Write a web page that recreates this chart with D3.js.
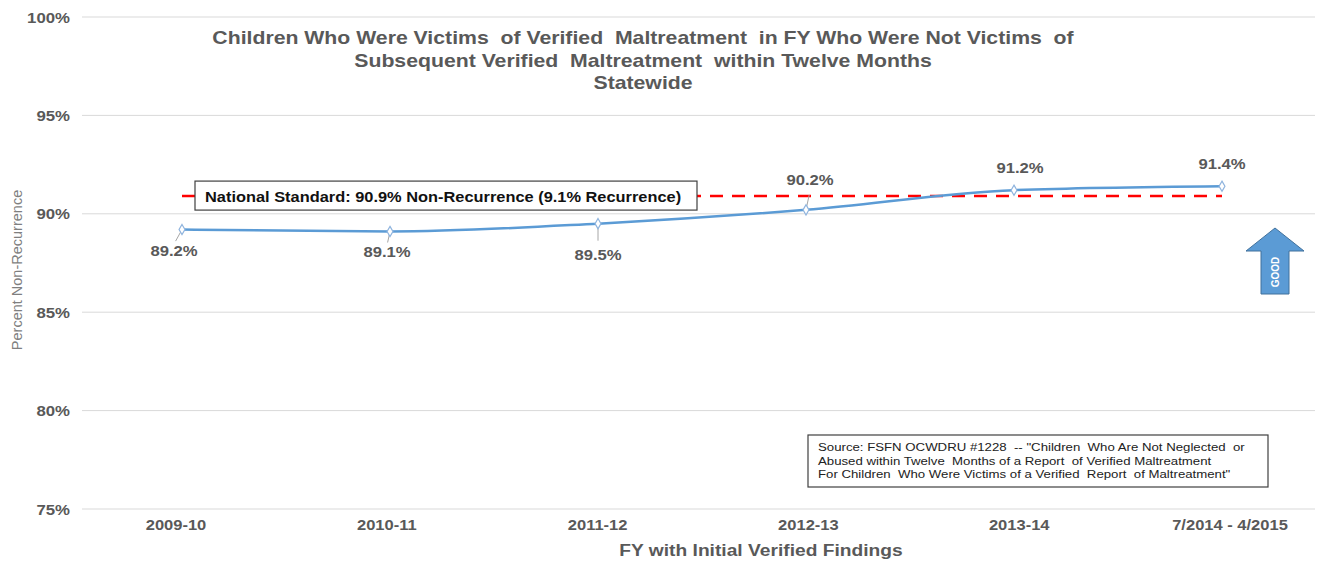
<!DOCTYPE html>
<html>
<head>
<meta charset="utf-8">
<script src="https://cdn.jsdelivr.net/npm/d3@7"></script>
<style>
  body { margin: 0; background: #fff; }
  svg { font-family: Arial, "Liberation Sans", sans-serif; }
</style>
</head>
<body>
<svg id="chart" width="1322" height="561"></svg>
<script>
// Chart data
const categories = ['2009-10', '2010-11', '2011-12', '2012-13', '2013-14', '7/2014 - 4/2015'];
const values = [89.2, 89.1, 89.5, 90.2, 91.2, 91.4];
const yTicks = [75, 80, 85, 90, 95, 100];
const nationalStandard = 90.9;
const titleLines = [
    'Children Who Were Victims  of Verified  Maltreatment  in FY Who Were Not Victims  of',
    'Subsequent Verified  Maltreatment  within Twelve Months',
    'Statewide'
];
const sourceLines = [
    'Source: FSFN OCWDRU #1228  -- "Children  Who Are Not Neglected  or',
    'Abused within Twelve  Months of a Report  of Verified Maltreatment',
    'For Children  Who Were Victims of a Verified  Report  of Maltreatment"'
];
// label offsets from each point
const labelPos = [
    { dx: -8, dy: 21 }, { dx: -3, dy: 20 }, { dx: 0, dy: 31 },
    { dx: 4, dy: -30 }, { dx: 6, dy: -22 }, { dx: 0, dy: -22 }
];

const svg = d3.select('#chart');
const textGray = '#595959';

// The reference text is drawn a little wider than the font, so stretch it
function addText(parent, x, y, sx, str) {
    return parent.append('g')
        .attr('transform', `translate(${x},${y}) scale(${sx},1)`)
        .append('text')
        .attr('xml:space', 'preserve')
        .text(str);
}

const x = d3.scalePoint().domain(categories).range([182, 1222]);
const xTick = d3.scalePoint().domain(categories).range([176, 1230]);
const y = d3.scaleLinear().domain([75, 100]).range([509, 17]);

// Gridlines
svg.append('g')
    .selectAll('line')
    .data(yTicks)
    .enter().append('line')
    .attr('x1', 82).attr('x2', 1315)
    .attr('y1', d => y(d)).attr('y2', d => y(d))
    .style('stroke', '#d9d9d9')
    .style('stroke-width', 1);

// Y tick labels
const yLab = svg.append('g');
yTicks.forEach(d => {
    addText(yLab, 70, y(d) + 5.5, 1.2, d + '%')
        .attr('text-anchor', 'end')
        .style('font-size', '14px')
        .style('font-weight', 'bold')
        .style('fill', textGray);
});

// X tick labels
const xLab = svg.append('g');
categories.forEach(d => {
    addText(xLab, xTick(d), 530, 1.18, d)
        .attr('text-anchor', 'middle')
        .style('font-size', '14px')
        .style('font-weight', 'bold')
        .style('fill', textGray);
});

// Axis titles
addText(svg, 761, 556, 1.13, 'FY with Initial Verified Findings')
    .attr('text-anchor', 'middle')
    .style('font-size', '17px')
    .style('font-weight', 'bold')
    .style('fill', textGray);

svg.append('text')
    .attr('transform', 'translate(22,270) rotate(-90)')
    .attr('text-anchor', 'middle')
    .style('font-size', '14.5px')
    .style('fill', '#7f7f7f')
    .text('Percent Non-Recurrence');

// Title
const titleG = svg.append('g');
titleLines.forEach((d, i) => {
    addText(titleG, 643, 44 + i * 22.5, 1.18, d)
        .attr('text-anchor', 'middle')
        .style('font-size', '18px')
        .style('font-weight', 'bold')
        .style('fill', textGray);
});

// National standard dashed line
svg.append('line')
    .attr('x1', x(categories[0])).attr('x2', x(categories[categories.length - 1]))
    .attr('y1', y(nationalStandard)).attr('y2', y(nationalStandard))
    .style('stroke', '#ff0000')
    .style('stroke-width', 2.5)
    .style('stroke-dasharray', '13,9');

// Standard label box
const boxG = svg.append('g');
boxG.append('rect')
    .attr('x', 195).attr('y', y(nationalStandard) - 15)
    .attr('width', 502).attr('height', 29)
    .style('fill', '#fff')
    .style('stroke', '#404040')
    .style('stroke-width', 1.2);
addText(boxG, 205, y(nationalStandard) + 5.5, 1.13, 'National Standard: 90.9% Non-Recurrence (9.1% Recurrence)')
    .style('font-size', '14.5px')
    .style('font-weight', 'bold')
    .style('fill', '#111');

// Leader lines from points to labels
svg.append('g')
    .selectAll('line')
    .data(values.slice(0, 4))
    .enter().append('line')
    .attr('x1', (d, i) => x(categories[i]))
    .attr('y1', d => y(d))
    .attr('x2', (d, i) => x(categories[i]) + labelPos[i].dx * 0.8)
    .attr('y2', (d, i) => y(d) + labelPos[i].dy * (labelPos[i].dy > 0 ? 0.55 : 0.5))
    .style('stroke', '#a6a6a6')
    .style('stroke-width', 1);

// Data line
const line = d3.line()
    .x((d, i) => x(categories[i]))
    .y(d => y(d))
    .curve(d3.curveMonotoneX);

svg.append('path')
    .datum(values)
    .attr('d', line)
    .style('fill', 'none')
    .style('stroke', '#5b9bd5')
    .style('stroke-width', 2.5);

// Markers
svg.append('g')
    .selectAll('path')
    .data(values)
    .enter().append('path')
    .attr('transform', (d, i) => `translate(${x(categories[i])},${y(d)})`)
    .attr('d', d3.symbol().type(d3.symbolDiamond).size(30))
    .style('fill', '#fff')
    .style('stroke', '#8fb4de')
    .style('stroke-width', 1.2);

// Data labels
const dataLab = svg.append('g');
values.forEach((d, i) => {
    addText(dataLab, x(categories[i]) + labelPos[i].dx, y(d) + labelPos[i].dy + 5, 1.15, d.toFixed(1) + '%')
        .attr('text-anchor', 'middle')
        .style('font-size', '14.5px')
        .style('font-weight', 'bold')
        .style('fill', textGray);
});

// GOOD arrow
const arrow = svg.append('g').attr('transform', 'translate(1275,228)');
arrow.append('path')
    .attr('d', 'M0,0 L29,23 L14,23 L14,66 L-14,66 L-14,23 L-29,23 Z')
    .style('fill', '#5b9bd5')
    .style('stroke', '#41719c')
    .style('stroke-width', 1);
arrow.append('text')
    .attr('transform', 'translate(4,44) rotate(-90)')
    .attr('text-anchor', 'middle')
    .style('font-size', '10px')
    .style('font-weight', 'bold')
    .style('fill', '#fff')
    .text('GOOD');

// Source box
const src = svg.append('g');
src.append('rect')
    .attr('x', 808).attr('y', 435)
    .attr('width', 460).attr('height', 52)
    .style('fill', '#fff')
    .style('stroke', '#404040')
    .style('stroke-width', 1.2);
sourceLines.forEach((d, i) => {
    addText(src, 818, 451 + i * 13.5, 1.15, d)
        .style('font-size', '11.5px')
        .style('fill', '#222');
});
</script>
</body>
</html>
